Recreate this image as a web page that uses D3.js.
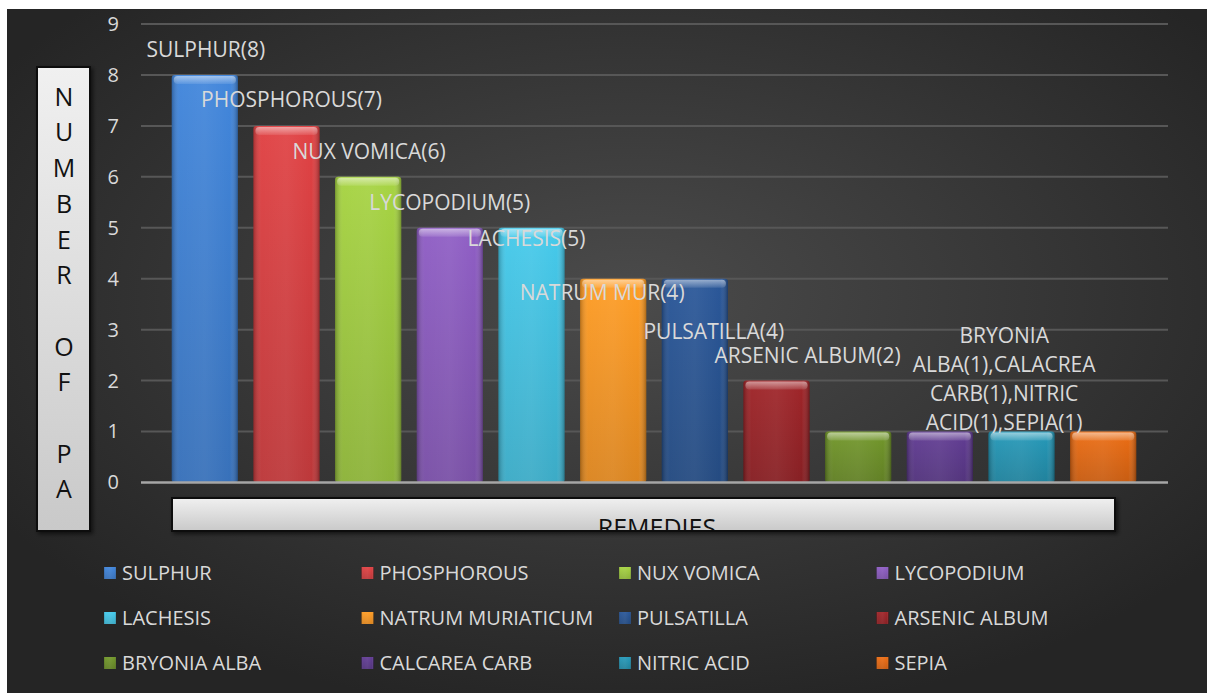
<!DOCTYPE html>
<html>
<head>
<meta charset="UTF-8">
<script src="https://cdn.jsdelivr.net/npm/d3@7"></script>
<style>
body { margin: 0; background: #fff; }
svg text { font-family: "Open Sans", sans-serif; }
</style>
</head>
<body>
<svg id="chart" width="1207" height="693"></svg>
<script>
// data
var remedies = ["SULPHUR", "PHOSPHOROUS", "NUX VOMICA", "LYCOPODIUM", "LACHESIS", "NATRUM MURIATICUM",
  "PULSATILLA", "ARSENIC ALBUM", "BRYONIA ALBA", "CALCAREA CARB", "NITRIC ACID", "SEPIA"];
var patients = [8, 7, 6, 5, 5, 4, 4, 2, 1, 1, 1, 1];
var barLabels = [["SULPHUR(8)"], ["PHOSPHOROUS(7)"], ["NUX VOMICA(6)"], ["LYCOPODIUM(5)"], ["LACHESIS(5)"],
  ["NATRUM MUR(4)"], ["PULSATILLA(4)"], ["ARSENIC ALBUM(2)"],
  ["BRYONIA", "ALBA(1),CALACREA", "CARB(1),NITRIC", "ACID(1),SEPIA(1)"], [], [], []];
var yTicks = [0, 1, 2, 3, 4, 5, 6, 7, 8, 9];
var yTitle = "NUMBER OF PA";
var xTitle = "REMEDIES";

var palette = ["#3b7dd0", "#d43b3d", "#9cc83c", "#8656ba", "#3fbfdf", "#f7931f",
  "#24508f", "#961f23", "#6a8e25", "#5a368a", "#2090ae", "#e0650f"];
// hand-placed data label offsets (dx from bar centre, dy from bar top)
var labelShift = [[1, -25], [5, -26], [1, -25], [0, -25], [-5, 11], [-11, 14], [19, 53], [31, -25],
  [146, -96], [0, 0], [0, 0], [0, 0]];

var svg = d3.select("#chart"),
  defs = svg.append("defs");

var bg = defs.append("radialGradient").attr("id", "bg")
  .attr("cx", "52%").attr("cy", "42%").attr("r", "62%");
bg.append("stop").attr("offset", "0%").attr("stop-color", "#4b4b4b");
bg.append("stop").attr("offset", "100%").attr("stop-color", "#252525");

var boxG = defs.append("linearGradient").attr("id", "boxg").attr("x1", 0).attr("y1", 0).attr("x2", 0).attr("y2", 1);
boxG.append("stop").attr("offset", "0%").attr("stop-color", "#f0f0f0");
boxG.append("stop").attr("offset", "100%").attr("stop-color", "#c9c9c9");

var shine = defs.append("linearGradient").attr("id", "shine");
[[0, "#000", 0.25], [0.12, "#fff", 0.05], [0.5, "#fff", 0.08], [0.88, "#fff", 0.02], [1, "#000", 0.3]]
  .forEach(function(s) {
    shine.append("stop").attr("offset", s[0]).attr("stop-color", s[1]).attr("stop-opacity", s[2]);
  });
var cap = defs.append("linearGradient").attr("id", "cap").attr("x1", 0).attr("y1", 0).attr("x2", 0).attr("y2", 1);
cap.append("stop").attr("offset", "0%").attr("stop-color", "#fff").attr("stop-opacity", 0.5);
cap.append("stop").attr("offset", "100%").attr("stop-color", "#fff").attr("stop-opacity", 0.1);

palette.forEach(function(c, i) {
  var g = defs.append("linearGradient").attr("id", "bar" + i)
    .attr("x1", 0).attr("y1", 0).attr("x2", 0).attr("y2", 1);
  g.append("stop").attr("offset", "0%").attr("stop-color", d3.color(c).brighter(0.15));
  g.append("stop").attr("offset", "100%").attr("stop-color", d3.color(c).darker(0.35));
});

var shadow = defs.append("filter").attr("id", "shadow").attr("x", "-10%").attr("y", "-10%")
  .attr("width", "130%").attr("height", "130%");
shadow.append("feDropShadow").attr("dx", 2).attr("dy", 2).attr("stdDeviation", 2)
  .attr("flood-color", "#000").attr("flood-opacity", 0.6);

svg.append("rect").attr("x", 7).attr("y", 9).attr("width", 1200).attr("height", 684).attr("fill", "url(#bg)");

var x = d3.scaleBand().domain(remedies).range([164, 1144]).paddingInner(0.19).paddingOuter(0.095),
  y = d3.scaleLinear().domain([0, 9]).range([482.5, 24]);

// gridlines
svg.append("g").selectAll("line").data(yTicks.slice(1)).join("line")
  .attr("x1", 141).attr("x2", 1168)
  .attr("y1", function(d) { return y(d); }).attr("y2", function(d) { return y(d); })
  .attr("stroke", "#575757").attr("stroke-width", 2);

// y axis labels
var yAxis = svg.append("g").attr("transform", "translate(119,0)")
  .call(d3.axisLeft(y).tickValues(yTicks).tickSize(0).tickPadding(0));
yAxis.select(".domain").remove();
yAxis.selectAll("text").attr("fill", "#d9d9d9").style("font-size", "20px")
  .style("font-family", "\"Open Sans\", sans-serif");

// bars
var bars = svg.append("g").selectAll("g").data(remedies).join("g");
bars.append("rect")
  .attr("x", function(d) { return x(d); })
  .attr("y", function(d, i) { return y(patients[i]); })
  .attr("width", x.bandwidth())
  .attr("height", function(d, i) { return y(0) - y(patients[i]); })
  .attr("rx", 3)
  .attr("fill", function(d, i) { return "url(#bar" + i + ")"; });
bars.append("rect")
  .attr("x", function(d) { return x(d); })
  .attr("y", function(d, i) { return y(patients[i]); })
  .attr("width", x.bandwidth())
  .attr("height", function(d, i) { return y(0) - y(patients[i]); })
  .attr("rx", 3)
  .attr("fill", "url(#shine)");
bars.append("rect")
  .attr("x", function(d) { return x(d) + 2; })
  .attr("y", function(d, i) { return y(patients[i]) + 1; })
  .attr("width", x.bandwidth() - 4)
  .attr("height", 8)
  .attr("rx", 4)
  .attr("fill", "url(#cap)");

// base line
svg.append("line").attr("x1", 141).attr("x2", 1168).attr("y1", y(0)).attr("y2", y(0))
  .attr("stroke", "#a6a6a6").attr("stroke-width", 2.5);

// data labels
svg.append("g").selectAll("text").data(remedies).join("text")
  .attr("x", function(d, i) { return x(d) + x.bandwidth() / 2 + labelShift[i][0]; })
  .attr("y", function(d, i) { return y(patients[i]) + labelShift[i][1]; })
  .attr("text-anchor", "middle")
  .attr("fill", "#d9d9d9")
  .style("font-size", "21px")
  .each(function(d, i) {
    var t = d3.select(this);
    barLabels[i].forEach(function(line, k) {
      t.append("tspan").attr("x", t.attr("x")).attr("dy", k === 0 ? "0.35em" : "29px").text(line);
    });
  });

// y title box
svg.append("rect").attr("x", 37).attr("y", 67).attr("width", 53).attr("height", 464)
  .attr("fill", "url(#boxg)").attr("stroke", "#111").attr("stroke-width", 2).attr("filter", "url(#shadow)");
svg.append("g").selectAll("text").data(yTitle.split("")).join("text")
  .attr("x", 64).attr("y", function(d, i) { return 97 + i * 35.7; })
  .attr("dy", "0.35em").attr("text-anchor", "middle")
  .attr("fill", "#111").style("font-size", "25px")
  .text(function(d) { return d; });

// x title box, text cut by the box
defs.append("clipPath").attr("id", "xclip").append("rect")
  .attr("x", 172).attr("y", 498).attr("width", 943).attr("height", 32);
svg.append("rect").attr("x", 172).attr("y", 498).attr("width", 943).attr("height", 33)
  .attr("fill", "url(#boxg)").attr("stroke", "#111").attr("stroke-width", 2).attr("filter", "url(#shadow)");
svg.append("text").attr("x", 657).attr("y", 537).attr("text-anchor", "middle")
  .attr("clip-path", "url(#xclip)").attr("fill", "#111").style("font-size", "25px").text(xTitle);

// legend
var legend = svg.append("g").selectAll("g").data(remedies).join("g")
  .attr("transform", function(d, i) {
    return "translate(" + (104 + (i % 4) * 257.5) + "," + (573 + Math.floor(i / 4) * 45) + ")";
  });
legend.append("rect").attr("x", 0).attr("y", -6).attr("width", 12).attr("height", 12)
  .attr("fill", function(d, i) { return "url(#bar" + i + ")"; });
legend.append("rect").attr("x", 0).attr("y", -6).attr("width", 12).attr("height", 12)
  .attr("fill", "url(#shine)");
legend.append("text").attr("x", 18).attr("dy", "0.35em").attr("fill", "#d9d9d9")
  .style("font-size", "20px").text(function(d) { return d; });
</script>
</body>
</html>
